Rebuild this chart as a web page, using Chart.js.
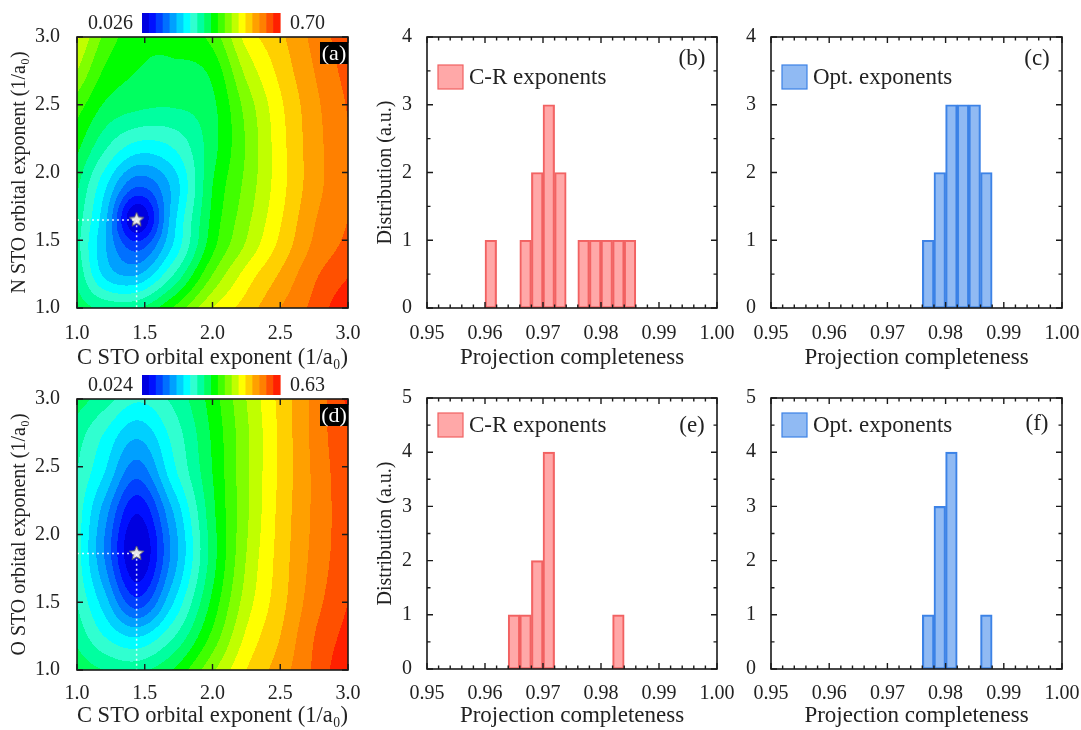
<!DOCTYPE html>
<html>
<head>
<meta charset="utf-8">
<script src="https://cdn.jsdelivr.net/npm/chart.js@4.4.1/dist/chart.umd.min.js"></script>
<style>
  body { margin: 0; background: #fff; }
  #wrap { position: relative; width: 1081px; height: 730px; overflow: hidden; }
  canvas { position: absolute; }
</style>
</head>
<body>
<div id="wrap">
  <canvas id="cA" width="360" height="372" style="left:0;top:0"></canvas>
  <canvas id="cB" width="375" height="372" style="left:365px;top:0"></canvas>
  <canvas id="cC" width="351" height="372" style="left:730px;top:0"></canvas>
  <canvas id="cD" width="360" height="368" style="left:0;top:362px"></canvas>
  <canvas id="cE" width="375" height="368" style="left:365px;top:362px"></canvas>
  <canvas id="cF" width="351" height="368" style="left:730px;top:362px"></canvas>
</div>
<script>
const SERIF = "'Liberation Serif', 'Times New Roman', serif";
Chart.defaults.font.family = SERIF;
Chart.defaults.color = '#222';
Chart.defaults.animation = false;

// --- contour maps (error measure on a grid of STO exponents) ---
const gridX = [1.0, 1.2, 1.44, 1.7, 2.0, 2.25, 2.5, 2.75, 3.0];
const axisRange = [1.0, 3.0];

// C-N pair, rows from y = 3.0 down to y = 1.0
const gridYCN = [3.0, 2.75, 2.5, 2.2, 1.9, 1.65, 1.45, 1.25, 1.0];
const fieldCN = [
  [0.505, 0.424, 0.376, 0.373, 0.410, 0.511, 0.558, 0.609, 0.656],
  [0.464, 0.393, 0.363, 0.356, 0.373, 0.474, 0.542, 0.599, 0.646],
  [0.414, 0.360, 0.339, 0.333, 0.356, 0.444, 0.525, 0.589, 0.636],
  [0.373, 0.306, 0.252, 0.265, 0.350, 0.434, 0.518, 0.585, 0.629],
  [0.336, 0.238, 0.130, 0.201, 0.363, 0.441, 0.518, 0.585, 0.629],
  [0.316, 0.208, 0.026, 0.208, 0.373, 0.454, 0.528, 0.596, 0.633],
  [0.309, 0.201, 0.114, 0.228, 0.387, 0.471, 0.542, 0.606, 0.643],
  [0.323, 0.221, 0.191, 0.289, 0.430, 0.511, 0.569, 0.626, 0.663],
  [0.346, 0.323, 0.326, 0.397, 0.498, 0.548, 0.599, 0.643, 0.700]
];
const rangeCN = [0.026, 0.70];
const cbarLabelsCN = ['0.026', '0.70'];
const starCN = [1.44, 1.65];

// C-O pair
const gridYCO = [3.0, 2.75, 2.45, 2.15, 1.86, 1.5, 1.25, 1.0];
const fieldCO = [
  [0.312, 0.282, 0.242, 0.272, 0.342, 0.418, 0.488, 0.548, 0.606],
  [0.282, 0.236, 0.185, 0.245, 0.333, 0.412, 0.485, 0.548, 0.600],
  [0.266, 0.206, 0.124, 0.221, 0.327, 0.412, 0.485, 0.545, 0.594],
  [0.254, 0.160, 0.054, 0.169, 0.318, 0.412, 0.488, 0.545, 0.591],
  [0.251, 0.145, 0.024, 0.151, 0.312, 0.418, 0.491, 0.548, 0.591],
  [0.266, 0.191, 0.097, 0.200, 0.336, 0.433, 0.497, 0.557, 0.600],
  [0.288, 0.236, 0.203, 0.260, 0.366, 0.454, 0.509, 0.569, 0.612],
  [0.318, 0.297, 0.288, 0.327, 0.412, 0.479, 0.524, 0.575, 0.630]
];
const rangeCO = [0.024, 0.63];
const cbarLabelsCO = ['0.024', '0.63'];
const starCO = [1.44, 1.86];

const bandColors = ['#0000e0', '#0010ff', '#0040ff', '#0070ff', '#00a0ff', '#00d0ff', '#00ffff',
  '#30ffd0', '#00ffa0', '#00ff60', '#00ff00', '#40ff00', '#80ff00', '#c0ff00', '#ffff00',
  '#ffd000', '#ffa000', '#ff8000', '#ff5000', '#ff2000'];

// --- histograms of projection completeness (bin width 0.002) ---
const crCentersCN = [0.961, 0.967, 0.969, 0.971, 0.973, 0.977, 0.979, 0.981, 0.983, 0.985];
const crCountsCN = [1, 1, 2, 3, 2, 1, 1, 1, 1, 1];
const optCentersCN = [0.977, 0.979, 0.981, 0.983, 0.985, 0.987];
const optCountsCN = [1, 2, 3, 3, 3, 2];
const crCentersCO = [0.965, 0.967, 0.969, 0.971, 0.983];
const crCountsCO = [1, 1, 2, 4, 1];
const optCentersCO = [0.977, 0.979, 0.981, 0.987];
const optCountsCO = [1, 3, 4, 1];

const pinkFill = 'rgba(255,110,110,0.6)', pinkLine = '#f06262';
const blueFill = 'rgba(70,140,235,0.6)', blueLine = '#3c82e6';

// cubic Hermite with centred (Catmull-Rom style) slopes, for the filled contours
function splineSlopes(xs, ys) {
  const n = xs.length, m = new Array(n);
  for (let i = 1; i < n - 1; i++) {
    const h0 = xs[i] - xs[i - 1], h1 = xs[i + 1] - xs[i];
    const d0 = (ys[i] - ys[i - 1]) / h0, d1 = (ys[i + 1] - ys[i]) / h1;
    m[i] = (d0 * h1 + d1 * h0) / (h0 + h1);
  }
  m[0] = (ys[1] - ys[0]) / (xs[1] - xs[0]);
  m[n - 1] = (ys[n - 1] - ys[n - 2]) / (xs[n - 1] - xs[n - 2]);
  return m;
}
function hermite(xs, ys, m, x) {
  let k = 0;
  while (k < xs.length - 2 && x > xs[k + 1]) k++;
  const h = xs[k + 1] - xs[k], t = Math.max(0, Math.min(1, (x - xs[k]) / h));
  const t2 = t * t, t3 = t2 * t;
  return (2 * t3 - 3 * t2 + 1) * ys[k] + (t3 - 2 * t2 + t) * h * m[k] +
         (-2 * t3 + 3 * t2) * ys[k + 1] + (t3 - t2) * h * m[k + 1];
}
function hexRgb(h) {
  const n = parseInt(h.slice(1), 16);
  return [(n >> 16) & 255, (n >> 8) & 255, n & 255];
}

function fieldCanvas(chart, cfg) {
  const a = chart.chartArea, xs = chart.scales.x, ys = chart.scales.y;
  const w = Math.round(a.right - a.left), h = Math.round(a.bottom - a.top);
  const yAsc = cfg.gridY.slice().reverse();
  const rows = cfg.field.slice().reverse();
  const rowSlopes = rows.map(r => splineSlopes(gridX, r));
  const rgb = bandColors.map(hexRgb);
  const off = document.createElement('canvas');
  off.width = w; off.height = h;
  const g = off.getContext('2d');
  const img = g.createImageData(w, h);
  const [lo, hi] = cfg.range;
  for (let i = 0; i < w; i++) {
    const xv = xs.getValueForPixel(a.left + i + 0.5);
    const col = rows.map((r, k) => hermite(gridX, r, rowSlopes[k], xv));
    const cs = splineSlopes(yAsc, col);
    for (let j = 0; j < h; j++) {
      const yv = ys.getValueForPixel(a.top + j + 0.5);
      const v = hermite(yAsc, col, cs, yv);
      let k = Math.floor((v - lo) / (hi - lo) * bandColors.length);
      k = Math.max(0, Math.min(bandColors.length - 1, k));
      const c = rgb[k], p = (j * w + i) * 4;
      img.data[p] = c[0]; img.data[p + 1] = c[1]; img.data[p + 2] = c[2]; img.data[p + 3] = 255;
    }
  }
  g.putImageData(img, 0, 0);
  return off;
}

function makeStar(size) {
  const c = document.createElement('canvas');
  c.width = c.height = size;
  const g = c.getContext('2d');
  const r = size / 2 - 1, ri = r * 0.45, cx = size / 2, cy = size / 2;
  g.beginPath();
  for (let i = 0; i < 10; i++) {
    const ang = -Math.PI / 2 + i * Math.PI / 5, rr = i % 2 ? ri : r;
    g.lineTo(cx + rr * Math.cos(ang), cy + rr * Math.sin(ang));
  }
  g.closePath();
  g.fillStyle = '#e8e8e8'; g.fill();
  g.strokeStyle = '#6a6a6a'; g.lineWidth = 1; g.stroke();
  return c;
}
const starImg = makeStar(17);

// frame + inward ticks on all four sides
const frameTicks = {
  id: 'frameTicks',
  afterDatasetsDraw(chart, args, o) {
    const { ctx, chartArea: a, scales: { x, y } } = chart;
    ctx.save();
    ctx.strokeStyle = '#1a1a1a';
    ctx.lineWidth = 1.4;
    ctx.beginPath();
    const nx = Math.round((x.max - x.min) / o.xStep);
    for (let i = 0; i <= nx; i++) {
      const px = x.getPixelForValue(x.min + i * o.xStep);
      const len = i % o.xEvery === 0 ? o.major : o.minor;
      ctx.moveTo(px, a.bottom); ctx.lineTo(px, a.bottom - len);
      ctx.moveTo(px, a.top); ctx.lineTo(px, a.top + len);
    }
    const ny = Math.round((y.max - y.min) / o.yStep);
    for (let j = 0; j <= ny; j++) {
      const py = y.getPixelForValue(y.min + j * o.yStep);
      const len = j % o.yEvery === 0 ? o.major : o.minor;
      ctx.moveTo(a.left, py); ctx.lineTo(a.left + len, py);
      ctx.moveTo(a.right, py); ctx.lineTo(a.right - len, py);
    }
    ctx.stroke();
    ctx.lineWidth = 1.6;
    ctx.strokeRect(a.left, a.top, a.right - a.left, a.bottom - a.top);
    ctx.restore();
  }
};

function xAxis(L, min, max, step, digits, title) {
  return {
    type: 'linear', min, max, offset: false,
    grid: { display: false }, border: { display: false },
    ticks: { stepSize: step, autoSkip: false, maxRotation: 0, padding: L.xPad,
             font: { size: 20 }, callback: v => v.toFixed(digits) },
    title: { display: true, text: title, font: { size: 23 }, padding: 0 },
    afterFit: s => { s.height = L.xH; s.paddingLeft = 0; s.paddingRight = 0; }
  };
}
function yAxis(L, min, max, step, digits, title) {
  return {
    type: 'linear', min, max,
    grid: { display: false }, border: { display: false },
    ticks: { stepSize: step, autoSkip: false, padding: L.yPad, font: { size: 20 },
             callback: v => v.toFixed(digits) },
    title: { display: !!title, text: title || '', font: { size: 20 }, padding: { top: L.yTitlePad } },
    afterFit: s => { s.width = L.yW; s.paddingTop = 0; s.paddingBottom = 0; }
  };
}

function contourChart(id, cfg, L) {
  const layer = {
    id: 'contourLayer',
    beforeDatasetsDraw(chart) {
      if (!chart.$field) chart.$field = fieldCanvas(chart, cfg);
      const a = chart.chartArea;
      chart.ctx.drawImage(chart.$field, a.left, a.top);
    },
    afterDraw(chart) {
      const { ctx, chartArea: a } = chart;
      ctx.save();
      // colour bar
      const cbL = a.left + 65, cbR = a.left + 203, cbT = a.top - 24, cbB = a.top - 4;
      const bw = (cbR - cbL) / bandColors.length;
      bandColors.forEach((c, k) => {
        ctx.fillStyle = c;
        ctx.fillRect(cbL + k * bw, cbT, bw + 0.6, cbB - cbT);
      });
      ctx.font = '20px ' + SERIF;
      ctx.fillStyle = '#222';
      ctx.textBaseline = 'middle';
      ctx.textAlign = 'right';
      ctx.fillText(cfg.cbarLabels[0], cbL - 9, (cbT + cbB) / 2 + 1);
      ctx.textAlign = 'left';
      ctx.fillText(cfg.cbarLabels[1], cbR + 10, (cbT + cbB) / 2 + 1);
      // panel letter
      ctx.fillStyle = '#000';
      ctx.fillRect(a.right - 28, a.top + 5, 28, 22);
      ctx.fillStyle = '#fff';
      ctx.textAlign = 'center';
      ctx.font = '22px ' + SERIF;
      ctx.fillText(cfg.letter, a.right - 14, a.top + 17);
      ctx.restore();
    }
  };
  const [sx, sy] = cfg.star;
  return new Chart(document.getElementById(id), {
    type: 'scatter',
    data: {
      datasets: [
        { data: [{ x: axisRange[0], y: sy }, { x: sx, y: sy }, { x: sx, y: axisRange[0] }],
          showLine: true, borderColor: 'rgba(255,255,255,0.85)', borderWidth: 1.5,
          borderDash: [2, 3], pointRadius: 0, fill: false },
        { data: [{ x: sx, y: sy }], pointStyle: starImg, pointRadius: 8 }
      ]
    },
    options: {
      responsive: false, animation: false, events: [],
      layout: { padding: { top: L.top, right: L.right, left: 0, bottom: 0 } },
      plugins: {
        legend: { display: false }, tooltip: { enabled: false },
        frameTicks: { xStep: 0.5, xEvery: 1, yStep: 0.5, yEvery: 1, major: 6, minor: 6 }
      },
      scales: {
        x: xAxis(L, axisRange[0], axisRange[1], 0.5, 1, 'C STO orbital exponent (1/a\u2080)'),
        y: yAxis(L, axisRange[0], axisRange[1], 0.5, 1, cfg.yTitle)
      }
    },
    plugins: [layer, frameTicks]
  });
}

function histChart(id, centers, counts, label, fill, line, yMax, cfg, L) {
  const decor = {
    id: 'histDecor',
    afterDraw(chart) {
      const { ctx, chartArea: a } = chart;
      const ds = chart.data.datasets[0];
      ctx.save();
      const sx = a.left + 11, sy = a.top + cfg.legendTop;
      ctx.fillStyle = ds.backgroundColor;
      ctx.fillRect(sx, sy, 25, 24);
      ctx.strokeStyle = ds.borderColor;
      ctx.lineWidth = 1.2;
      ctx.strokeRect(sx, sy, 25, 24);
      ctx.fillStyle = '#222';
      ctx.font = '23px ' + SERIF;
      ctx.textBaseline = 'middle';
      ctx.textAlign = 'left';
      ctx.fillText(ds.label, sx + 31, sy + 13);
      ctx.textAlign = 'center';
      ctx.fillText(cfg.letter, a.right - 25, a.top + cfg.letterTop);
      ctx.restore();
    }
  };
  return new Chart(document.getElementById(id), {
    type: 'bar',
    data: {
      datasets: [{
        label, data: centers.map((c, i) => ({ x: c, y: counts[i] })),
        backgroundColor: fill, borderColor: line, borderWidth: 1.5, borderSkipped: false,
        categoryPercentage: 1, barPercentage: 1
      }]
    },
    options: {
      responsive: false, animation: false, events: [],
      layout: { padding: { top: L.top, right: L.right, left: 0, bottom: 0 } },
      plugins: {
        legend: { display: false }, tooltip: { enabled: false },
        frameTicks: { xStep: 0.002, xEvery: 5, yStep: 0.5, yEvery: 2, major: 6, minor: 3.5 }
      },
      scales: {
        x: xAxis(L, 0.95, 1.0, 0.01, 2, 'Projection completeness'),
        y: yAxis(L, 0, yMax, 1, 0, cfg.yTitle)
      }
    },
    plugins: [frameTicks, decor]
  });
}

const LA = { top: 37, right: 12, yW: 77, xH: 64, xPad: 6, yPad: 9, yTitlePad: 8 };
const LD = { top: 37, right: 12, yW: 77, xH: 60, xPad: 4, yPad: 9, yTitlePad: 8 };
const LB = { top: 37, right: 23, yW: 62, xH: 64, xPad: 6, yPad: 7, yTitlePad: 9 };
const LC = { top: 37, right: 19, yW: 41, xH: 64, xPad: 6, yPad: 7, yTitlePad: 9 };
const LE = { top: 36, right: 23, yW: 62, xH: 61, xPad: 5, yPad: 7, yTitlePad: 9 };
const LF = { top: 36, right: 19, yW: 41, xH: 61, xPad: 5, yPad: 7, yTitlePad: 9 };

contourChart('cA', { gridY: gridYCN, field: fieldCN, range: rangeCN, cbarLabels: cbarLabelsCN,
  star: starCN, letter: '(a)', yTitle: 'N STO orbital exponent (1/a\u2080)' }, LA);
contourChart('cD', { gridY: gridYCO, field: fieldCO, range: rangeCO, cbarLabels: cbarLabelsCO,
  star: starCO, letter: '(d)', yTitle: 'O STO orbital exponent (1/a\u2080)' }, LD);

histChart('cB', crCentersCN, crCountsCN, 'C-R exponents', pinkFill, pinkLine, 4,
  { letter: '(b)', legendTop: 28, letterTop: 22, yTitle: 'Distribution (a.u.)' }, LB);
histChart('cC', optCentersCN, optCountsCN, 'Opt. exponents', blueFill, blueLine, 4,
  { letter: '(c)', legendTop: 28, letterTop: 22 }, LC);
histChart('cE', crCentersCO, crCountsCO, 'C-R exponents', pinkFill, pinkLine, 5,
  { letter: '(e)', legendTop: 15, letterTop: 28, yTitle: 'Distribution (a.u.)' }, LE);
histChart('cF', optCentersCO, optCountsCO, 'Opt. exponents', blueFill, blueLine, 5,
  { letter: '(f)', legendTop: 15, letterTop: 26 }, LF);
</script>
</body>
</html>
